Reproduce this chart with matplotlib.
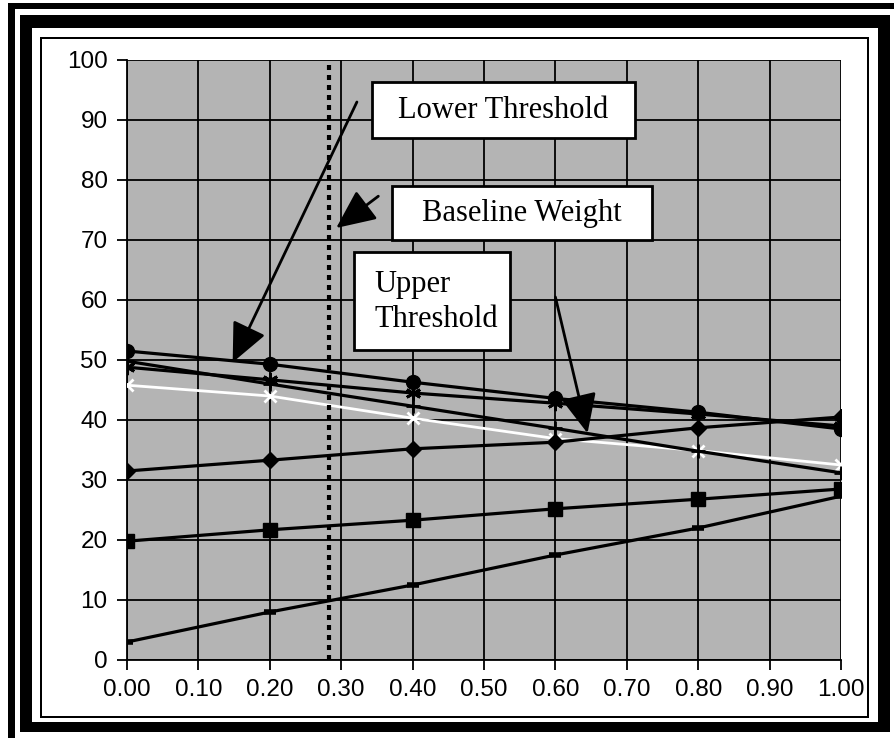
import matplotlib
matplotlib.use("Agg")
import matplotlib.pyplot as plt
from matplotlib.patches import Rectangle

# ---- data ----
x_vals = [0.0, 0.2, 0.4, 0.6, 0.8, 1.0]
circles = [51.5, 49.3, 46.3, 43.6, 41.3, 38.5]
stars = [48.8, 46.7, 44.5, 42.8, 41.0, 39.0]
plus_s = [49.8, 46.0, 42.3, 38.6, 34.8, 31.2]
white_x = [45.8, 44.0, 40.3, 36.9, 34.9, 32.5]
diamonds = [31.5, 33.3, 35.2, 36.3, 38.7, 40.5]
squares = [19.8, 21.7, 23.3, 25.2, 26.8, 28.5]
dashes = [3.0, 8.0, 12.5, 17.5, 22.0, 27.3]
baseline_x = 0.283
x_ticks = [0.0, 0.1, 0.2, 0.3, 0.4, 0.5, 0.6, 0.7, 0.8, 0.9, 1.0]
x_labels = ["0.00", "0.10", "0.20", "0.30", "0.40", "0.50", "0.60", "0.70", "0.80", "0.90", "1.00"]
y_ticks = [0, 10, 20, 30, 40, 50, 60, 70, 80, 90, 100]

W, H = 894, 738
fig = plt.figure(figsize=(W / 100, H / 100), dpi=100)
fig.patch.set_facecolor("white")


def px_rect(l, t, r, b):
    return Rectangle((l / W, 1 - b / H), (r - l) / W, (b - t) / H,
                     transform=fig.transFigure, facecolor="black",
                     edgecolor="none", zorder=0)


def frame(l, t, r, b, wl, wt, wr, wb):
    for rect in (px_rect(l, t, l + wl, b), px_rect(l, t, r, t + wt),
                 px_rect(r - wr, t, r, b), px_rect(l, b - wb, r, b)):
        fig.patches.append(rect)


frame(8, 3, 910, 760, 7, 6, 6, 6)
frame(20, 15, 890, 732, 12, 13, 12, 10)
frame(40, 37, 869, 718, 2, 2, 2, 2)

ax = fig.add_axes([127 / W, (H - 660) / H, 714 / W, 600 / H])
ax.set_facecolor("#b4b4b4")
ax.set_xlim(0, 1.0)
ax.set_ylim(0, 100)
ax.set_xticks(x_ticks)
ax.set_xticklabels(x_labels)
ax.set_yticks(y_ticks)
ax.grid(True, color="black", linewidth=1.3, zorder=1)
ax.set_axisbelow(True)
for s in ["top", "right"]:
    ax.spines[s].set_visible(False)
for s in ["left", "bottom"]:
    ax.spines[s].set_linewidth(1.3)
ax.tick_params(direction="out", length=7, width=1.3, labelsize=17.5, pad=7)
for lab in ax.get_xticklabels() + ax.get_yticklabels():
    lab.set_fontfamily("Liberation Sans")

lw = 2.3
ax.plot(x_vals, white_x, color="white", lw=2.0, marker="x", ms=9, mew=2, zorder=3)
ax.plot(x_vals, dashes, color="black", lw=lw, marker="_", ms=9, mew=4, zorder=4)
ax.plot(x_vals, squares, color="black", lw=lw, marker="s", ms=10, zorder=4)
ax.plot(x_vals, diamonds, color="black", lw=lw, marker="D", ms=8, zorder=4)
ax.plot(x_vals, plus_s, color="black", lw=lw, marker="+", ms=10, mew=2, zorder=4)
ax.plot(x_vals, stars, color="black", lw=lw, marker=(6, 2, 0), ms=11, mew=2, zorder=4)
ax.plot(x_vals, circles, color="black", lw=lw, marker="o", ms=10, zorder=5)

ax.plot([baseline_x, baseline_x], [0, 100], color="black", lw=3,
        linestyle=(0, (1.2, 1.2)), zorder=3)

serif = "Liberation Serif"


def box(x0, y0, x1, y1):
    ax.add_patch(Rectangle((x0, y0), x1 - x0, y1 - y0, facecolor="white",
                           edgecolor="black", lw=2, zorder=7))


arrow = dict(arrowstyle="-|>,head_length=1.1,head_width=0.5", color="black",
             lw=2, mutation_scale=22, shrinkA=0, shrinkB=0)

# Lower threshold
ax.annotate("", xy=(0.148, 49.6), xytext=(0.322, 93.0), arrowprops=arrow, zorder=6)
box(0.343, 87.0, 0.711, 96.3)
ax.text(0.527, 91.6, "Lower Threshold", ha="center", va="center",
        fontsize=22, family=serif, zorder=8)

# Baseline weight
ax.annotate("", xy=(0.293, 72.0), xytext=(0.352, 77.3), arrowprops=arrow, zorder=6)
box(0.371, 70.0, 0.735, 79.0)
ax.text(0.553, 74.4, "Baseline Weight", ha="center", va="center",
        fontsize=22, family=serif, zorder=8)

# Upper threshold
ax.annotate("", xy=(0.645, 37.8), xytext=(0.60, 60.5), arrowprops=arrow, zorder=6)
box(0.318, 51.7, 0.536, 68.0)
ax.text(0.346, 59.7, "Upper\nThreshold", ha="left", va="center",
        fontsize=22, family=serif, linespacing=1.25, zorder=8)

fig.savefig("out.png", dpi=100)
